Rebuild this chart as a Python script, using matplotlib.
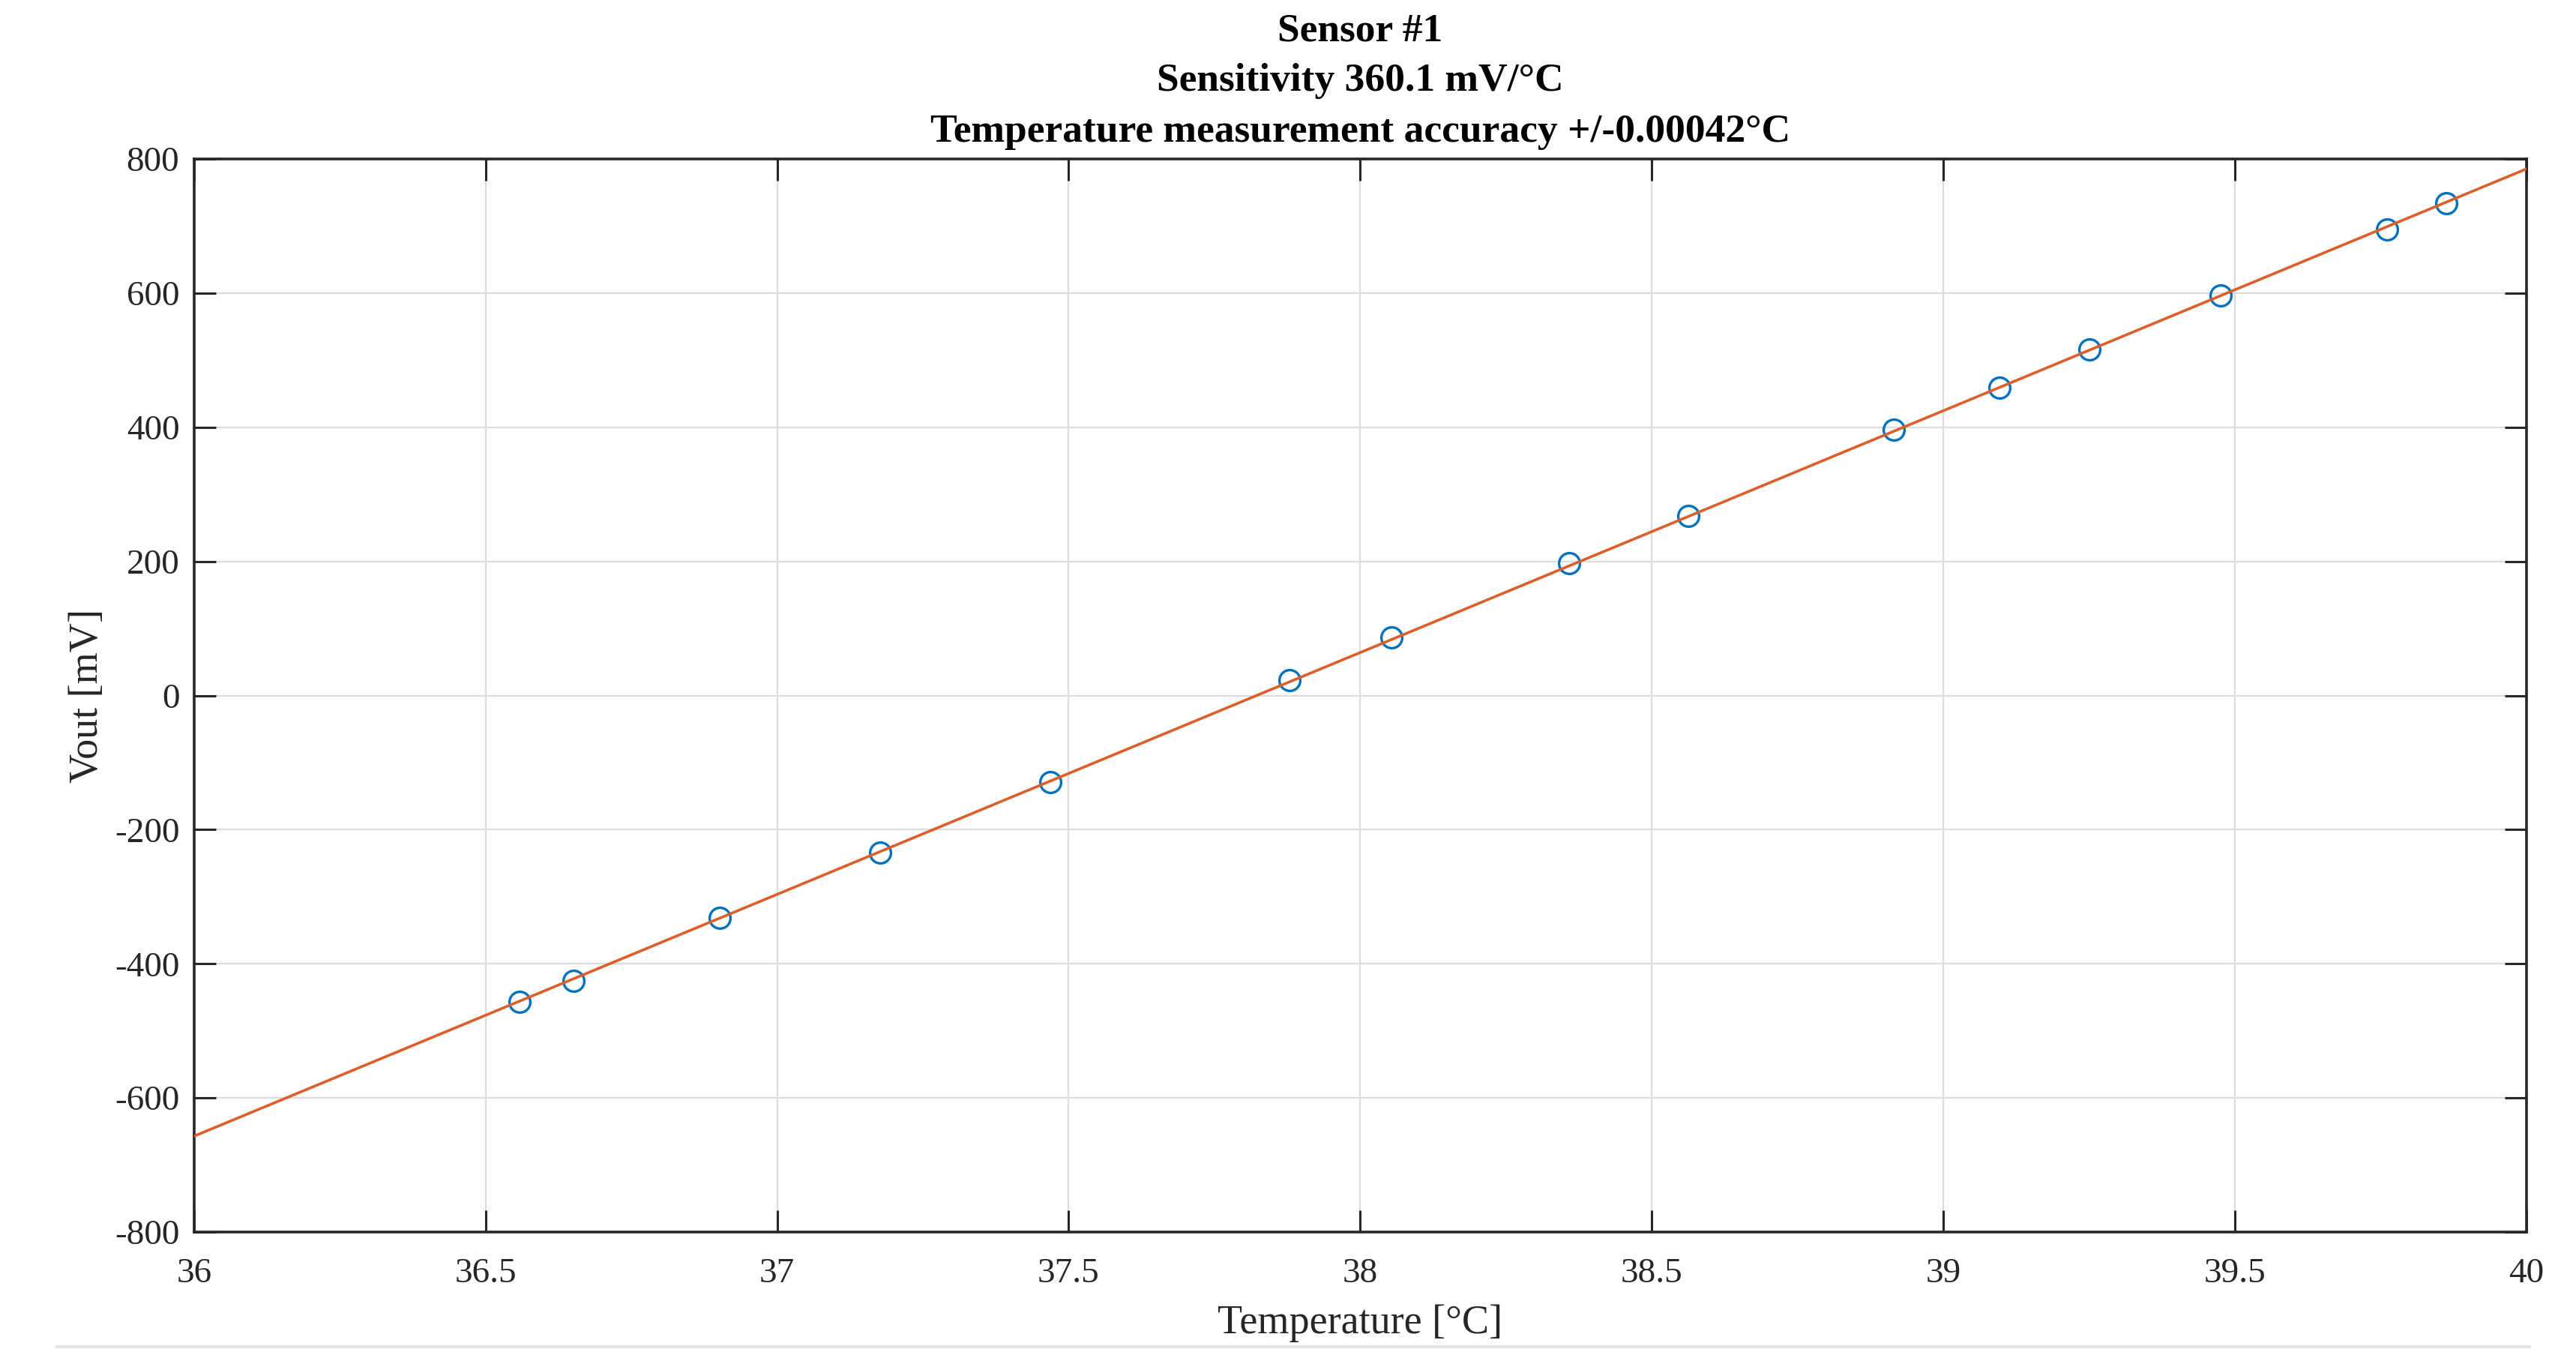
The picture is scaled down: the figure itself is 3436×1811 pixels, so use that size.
import numpy as np
import matplotlib
matplotlib.use('Agg')
import matplotlib.pyplot as plt
from matplotlib.lines import Line2D

temp = [36.558, 36.651, 36.901, 37.177, 37.468, 37.879, 38.054, 38.358,
        38.563, 38.915, 39.096, 39.251, 39.476, 39.761, 39.862]
vout = [-457, -425, -332, -234, -129, 23, 87, 197,
        268, 396, 459, 516, 597, 695, 734]

xticks = [36, 36.5, 37, 37.5, 38, 38.5, 39, 39.5, 40]
yticks = [-800, -600, -400, -200, 0, 200, 400, 600, 800]
title_lines = ['Sensor #1', 'Sensitivity 360.1 mV/\u00b0C',
               'Temperature measurement accuracy +/-0.00042\u00b0C']

plt.rcParams['font.family'] = ['Liberation Serif', 'DejaVu Serif']

fig = plt.figure(figsize=(34.36, 18.11), dpi=100)
ax = fig.add_axes([0.0753, 0.0928, 0.9055, 0.79])

# linear fit through the points
p = np.polyfit(temp, vout, 1)
xfit = np.array([xticks[0], xticks[-1]])

ax.plot(temp, vout, 'o', mfc='none', mec='#0072BD', ms=20, mew=2.4, zorder=3)
ax.plot(xfit, np.polyval(p, xfit), '-', color='#DC5F2A', lw=2.6, zorder=4)

ax.set_xlim(36, 40)
ax.set_ylim(-800, 800)
ax.set_xticks(xticks)
ax.set_xticklabels(['%g' % t for t in xticks])
ax.set_yticks(yticks)
ax.set_yticklabels(['%g' % t for t in yticks])

ax.grid(True, color='#dcdcdc', lw=1.6)
ax.set_axisbelow(True)
for s in ax.spines.values():
    s.set_color('#262626')
    s.set_linewidth(2.6)
ax.tick_params(direction='in', length=21, width=2.2, color='#262626',
               top=True, right=True, labelsize=34, labelcolor='#262626')
ax.tick_params(axis='x', pad=25)
ax.tick_params(axis='y', pad=14)

ax.set_xlabel('Temperature [\u00b0C]', fontsize=39, color='#262626', labelpad=14)
ax.set_ylabel('Vout [mV]', fontsize=39, color='#262626', labelpad=8)

ax.set_title('\n'.join(title_lines), fontsize=38.5, fontweight='bold',
             linespacing=1.52, pad=17)

# faint rule at the bottom of the page
fig.add_artist(Line2D([0.022, 0.982], [0.0083, 0.0083], color='#e4e4e4', lw=3))

fig.savefig('out.png', dpi=100, facecolor='white')
